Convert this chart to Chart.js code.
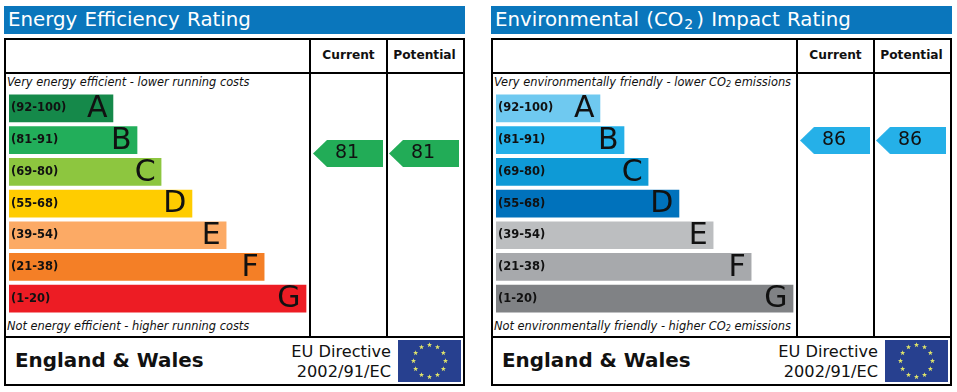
<!DOCTYPE html>
<html lang="en">
<head>
    <meta charset="UTF-8">
    <title>Energy ratings</title>
    <script src="https://cdn.jsdelivr.net/npm/chart.js"></script>
    <style>
        html, body { margin: 0; padding: 0; background: #fff; }
        body { width: 957px; height: 392px; position: relative; overflow: hidden; font-family: "DejaVu Sans", sans-serif; color: #111; }
        .panel { position: absolute; top: 0; width: 470px; height: 392px; }
        .panel canvas { position: absolute; left: 0; top: 0; }
        .panel div, .panel svg { position: absolute; white-space: nowrap; }
        .title { left: 4px; top: 6px; width: 461px; height: 28px; background: #0a76bc; color: #fff; font-size: 19.8px; line-height: 28px; text-indent: 4px; word-spacing: 1px; }
        .title sub { font-size: 14px; line-height: 0; vertical-align: -3px; padding: 0 3px 0 1px; }
        .line { background: #000; }
        .head { top: 47px; width: 75px; text-align: center; font-weight: bold; font-size: 12.2px; line-height: 16px; }
        .note { left: 7px; font-style: italic; font-size: 11.4px; line-height: 14px; }
        .note sub { font-size: 8px; line-height: 0; vertical-align: -1px; }
        .country { left: 15px; top: 348px; font-weight: bold; font-size: 19.9px; line-height: 25px; }
        .directive { right: 79px; top: 342px; text-align: right; font-size: 16.2px; line-height: 20px; }
        .flag { left: 398px; top: 340px; }
    </style>
</head>
<body>
    <div class="panel" id="energy"></div>
    <div class="panel" id="environment" style="left:487px"></div>
    <script>
        const grades = ['A', 'B', 'C', 'D', 'E', 'F', 'G'];
        const bands = ['(92-100)', '(81-91)', '(69-80)', '(55-68)', '(39-54)', '(21-38)', '(1-20)'];
        const barLengths = [35, 43.1, 51.2, 61.6, 73.1, 85.9, 100];
        const columns = ['Current', 'Potential'];

        const energyColors = ['#15894a', '#22ae5a', '#8dc63f', '#ffcc00', '#fcaa65', '#f47f26', '#ed1c24'];
        const energyScores = [81, 81];
        const energyPointer = '#22ac57';

        const envColors = ['#6fc9f0', '#25b0e8', '#0e9ad6', '#0072bc', '#bcbec0', '#a7a9ac', '#808285'];
        const envScores = [86, 86];
        const envPointer = '#25b0e8';

        // 70x27 arrow used as the point style of the score points
        function arrowImage(color) {
            const c = document.createElement('canvas');
            c.width = 70;
            c.height = 27;
            const g = c.getContext('2d');
            g.fillStyle = color;
            g.beginPath();
            g.moveTo(0, 13.5);
            g.lineTo(14, 0);
            g.lineTo(70, 0);
            g.lineTo(70, 27);
            g.lineTo(14, 27);
            g.closePath();
            g.fill();
            return c;
        }

        const labelPlugin = {
            id: 'labels',
            afterDatasetsDraw(chart) {
                const ctx = chart.ctx;
                const bars = chart.getDatasetMeta(0).data;
                ctx.save();
                ctx.fillStyle = '#111';
                ctx.textBaseline = 'middle';
                bars.forEach(function (bar, i) {
                    ctx.textAlign = 'left';
                    ctx.font = 'bold 11.5px "DejaVu Sans"';
                    ctx.fillText(bands[i], chart.chartArea.left + 2, bar.y);
                    ctx.textAlign = 'right';
                    ctx.font = '30px "DejaVu Sans"';
                    ctx.fillText(grades[i], bar.x - 5.5, bar.y + 1);
                });
                ctx.textAlign = 'center';
                ctx.font = '19px "DejaVu Sans"';
                chart.getDatasetMeta(1).data.forEach(function (pt, i) {
                    ctx.fillText(chart.data.datasets[1].data[i].y, pt.x - 1, pt.y);
                });
                ctx.restore();
            }
        };

        function drawChart(panel, colors, scores, pointer) {
            const canvas = document.createElement('canvas');
            canvas.width = 470;
            canvas.height = 392;
            panel.appendChild(canvas);
            new Chart(canvas, {
                type: 'bar',
                data: {
                    labels: grades,
                    datasets: [{
                        data: barLengths,
                        backgroundColor: colors,
                        barThickness: 27,
                        grouped: false,
                        xAxisID: 'x',
                        yAxisID: 'y'
                    }, {
                        type: 'scatter',
                        data: scores.map(function (s, i) { return { x: i + 1, y: s }; }),
                        pointStyle: arrowImage(pointer),
                        xAxisID: 'col',
                        yAxisID: 'score',
                        clip: false
                    }]
                },
                options: {
                    indexAxis: 'y',
                    responsive: false,
                    animation: false,
                    devicePixelRatio: 1,
                    layout: { padding: { left: 9, right: 11, top: 92.6, bottom: 77.5 } },
                    plugins: { legend: { display: false }, tooltip: { enabled: false } },
                    scales: {
                        x: { axis: 'x', type: 'linear', display: false, offset: false, min: 0, max: 151.5 },
                        y: { axis: 'y', type: 'category', display: false, offset: true },
                        col: { axis: 'x', type: 'linear', display: false, offset: false, min: -3.4605, max: 2.4605 },
                        score: { axis: 'y', type: 'linear', display: false, offset: false, min: 19.08, max: 104.42 }
                    }
                },
                plugins: [labelPlugin]
            });
        }

        function flagSvg() {
            let stars = '';
            for (let i = 0; i < 12; i++) {
                const a = i * Math.PI / 6;
                const cx = 31.5 + 16 * Math.sin(a);
                const cy = 21 - 16 * Math.cos(a);
                let pts = [];
                for (let k = 0; k < 10; k++) {
                    const r = k % 2 ? 1.1 : 2.7;
                    const b = k * Math.PI / 5;
                    pts.push((cx + r * Math.sin(b)).toFixed(2) + ',' + (cy - r * Math.cos(b)).toFixed(2));
                }
                stars += '<polygon points="' + pts.join(' ') + '" fill="#dfe36a"/>';
            }
            return '<svg class="flag" width="63" height="42"><rect width="63" height="42" fill="#27408f"/>' + stars + '</svg>';
        }

        function buildFrame(panel, titleHtml, topNote, bottomNote) {
            const lines = [
                [4, 38, 461, 2], [4, 384, 461, 2], [4, 38, 2, 348], [463, 38, 2, 348],
                [309, 38, 2, 300], [386, 38, 2, 300], [4, 72, 461, 2], [4, 336, 461, 2]
            ];
            let html = '<div class="title">' + titleHtml + '</div>';
            lines.forEach(function (l) {
                html += '<div class="line" style="left:' + l[0] + 'px;top:' + l[1] + 'px;width:' + l[2] + 'px;height:' + l[3] + 'px"></div>';
            });
            html += '<div class="head" style="left:311px">' + columns[0] + '</div>';
            html += '<div class="head" style="left:387px">' + columns[1] + '</div>';
            html += '<div class="note" style="top:75px">' + topNote + '</div>';
            html += '<div class="note" style="top:319px">' + bottomNote + '</div>';
            html += '<div class="country">England &amp; Wales</div>';
            html += '<div class="directive">EU Directive<br>2002/91/EC</div>';
            html += flagSvg();
            panel.innerHTML = html;
        }

        const energy = document.getElementById('energy');
        const environment = document.getElementById('environment');
        buildFrame(energy, 'Energy Efficiency Rating',
            'Very energy efficient - lower running costs',
            'Not energy efficient - higher running costs');
        buildFrame(environment, 'Environmental (CO<sub>2</sub>) Impact Rating',
            'Very environmentally friendly - lower CO<sub>2</sub> emissions',
            'Not environmentally friendly - higher CO<sub>2</sub> emissions');
        drawChart(energy, energyColors, energyScores, energyPointer);
        drawChart(environment, envColors, envScores, envPointer);
    </script>
</body>
</html>
